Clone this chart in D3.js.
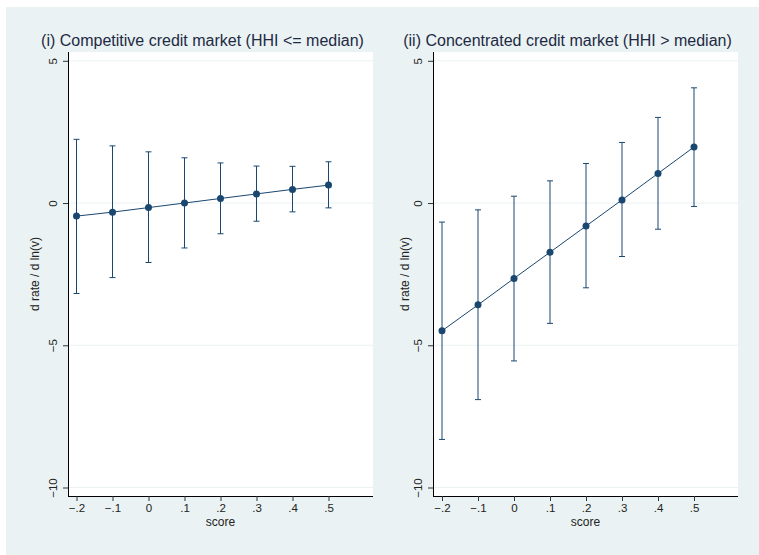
<!DOCTYPE html>
<html>
<head>
<meta charset="utf-8">
<script src="https://cdn.jsdelivr.net/npm/d3@7"></script>
<style>
  body { margin: 0; background: #fff; }
  svg { display: block; font-family: "Liberation Sans", Arial, sans-serif; }
</style>
</head>
<body>
<svg id="chart" width="759" height="555"></svg>
<script>
// data
var scores = [-0.2, -0.1, 0, 0.1, 0.2, 0.3, 0.4, 0.5];
var xTicks = [-0.2, -0.1, 0, 0.1, 0.2, 0.3, 0.4, 0.5];
var xTickLabels = ["\u2212.2", "\u2212.1", "0", ".1", ".2", ".3", ".4", ".5"];
var yTicks = [5, 0, -5, -10];
var yTickLabels = ["5", "0", "\u22125", "\u221210"];

var titles = ["(i) Competitive credit market (HHI <= median)",
              "(ii) Concentrated credit market (HHI > median)"];

var compEst = [-0.46, -0.32, -0.16, 0.0, 0.16, 0.32, 0.48, 0.63];
var compHi  = [2.24, 2.01, 1.80, 1.59, 1.41, 1.30, 1.29, 1.45];
var compLo  = [-3.18, -2.62, -2.09, -1.58, -1.08, -0.64, -0.31, -0.17];

var concEst = [-4.49, -3.58, -2.65, -1.73, -0.81, 0.11, 1.04, 1.97];
var concHi  = [-0.67, -0.24, 0.24, 0.78, 1.39, 2.13, 3.01, 4.05];
var concLo  = [-8.31, -6.91, -5.55, -4.23, -2.98, -1.88, -0.92, -0.12];

var navy = "#1a476f";
var bg = "#eaf2f3";

var svg = d3.select("#chart");

svg.append("rect")
    .attr("x", 6).attr("y", 7)
    .attr("width", 753).attr("height", 548)
    .attr("fill", bg);

// left = plot region edge, x0 = position of score -.2
function drawPanel(left, x0, title, est, lo, hi, yTitleX) {
    var top = 52, bottom = 496, width = 305;

    var x = d3.scaleLinear().domain([-0.2, 0.5]).range([x0, x0 + 252]);
    var y = d3.scaleLinear().domain([-10, 5]).range([487.5, 60.8]);

    var g = svg.append("g");

    g.append("rect")
        .attr("x", left).attr("y", top)
        .attr("width", width).attr("height", bottom - top)
        .attr("fill", "#fff");

    // grid lines
    g.append("g").selectAll("line")
        .data(yTicks)
        .enter().append("line")
        .attr("x1", left).attr("x2", left + width)
        .attr("y1", function (d) { return y(d); })
        .attr("y2", function (d) { return y(d); })
        .attr("stroke", bg)
        .attr("stroke-width", 1);

    // y axis
    var yAxis = g.append("g")
        .attr("transform", "translate(" + left + ",0)")
        .call(d3.axisLeft(y).tickValues(yTicks).tickSize(5).tickPadding(0)
            .tickFormat(function (d, i) { return yTickLabels[i]; }));
    yAxis.select(".domain").attr("d", "M0.5," + top + "V" + bottom).attr("stroke", "#000");
    yAxis.selectAll(".tick line").attr("stroke", "#333");
    yAxis.selectAll(".tick text")
        .attr("transform", "translate(-11,0) rotate(-90)")
        .attr("x", 0).attr("y", 0).attr("dy", 0)
        .attr("text-anchor", "middle")
        .style("font-size", "11.5px")
        .attr("fill", "#222");

    // x axis
    var xAxis = g.append("g")
        .attr("transform", "translate(0," + bottom + ")")
        .call(d3.axisBottom(x).tickValues(xTicks).tickSize(5).tickPadding(3)
            .tickFormat(function (d, i) { return xTickLabels[i]; }));
    xAxis.select(".domain").attr("d", "M" + left + ",0.5H" + (left + width)).attr("stroke", "#000");
    xAxis.selectAll(".tick line").attr("stroke", "#333");
    xAxis.selectAll(".tick text")
        .style("font-size", "11.5px")
        .attr("fill", "#222");

    g.append("text")
        .attr("x", left + width / 2).attr("y", 526)
        .attr("text-anchor", "middle")
        .style("font-size", "12px")
        .attr("fill", "#222")
        .text("score");

    g.append("text")
        .attr("transform", "translate(" + yTitleX + "," + (top + bottom) / 2 + ") rotate(-90)")
        .attr("text-anchor", "middle")
        .style("font-size", "12px")
        .attr("fill", "#222")
        .text("d rate / d ln(v)");

    g.append("text")
        .attr("x", left + width / 2 - 18).attr("y", 45.5)
        .attr("text-anchor", "middle")
        .style("font-size", "16px")
        .attr("fill", "#1e2a44")
        .text(title);

    var rows = scores.map(function (s, i) {
        return {s: s, est: est[i], lo: lo[i], hi: hi[i]};
    });

    // confidence intervals
    var ci = g.append("g").attr("stroke", navy).attr("stroke-width", 1);
    ci.selectAll(".bar").data(rows).enter().append("line")
        .attr("x1", function (d) { return x(d.s); })
        .attr("x2", function (d) { return x(d.s); })
        .attr("y1", function (d) { return y(d.lo); })
        .attr("y2", function (d) { return y(d.hi); });
    ["lo", "hi"].forEach(function (k) {
        ci.selectAll(".cap-" + k).data(rows).enter().append("line")
            .attr("x1", function (d) { return x(d.s) - 3; })
            .attr("x2", function (d) { return x(d.s) + 3; })
            .attr("y1", function (d) { return y(d[k]); })
            .attr("y2", function (d) { return y(d[k]); });
    });

    // connected estimates
    g.append("path")
        .datum(rows)
        .attr("fill", "none")
        .attr("stroke", navy)
        .attr("stroke-width", 1)
        .attr("d", d3.line()
            .x(function (d) { return x(d.s); })
            .y(function (d) { return y(d.est); }));

    g.selectAll("circle").data(rows).enter().append("circle")
        .attr("cx", function (d) { return x(d.s); })
        .attr("cy", function (d) { return y(d.est); })
        .attr("r", 3.5)
        .attr("fill", navy);
}

drawPanel(68, 76.5, titles[0], compEst, compLo, compHi, 39);
drawPanel(433, 442, titles[1], concEst, concLo, concHi, 409);
</script>
</body>
</html>
